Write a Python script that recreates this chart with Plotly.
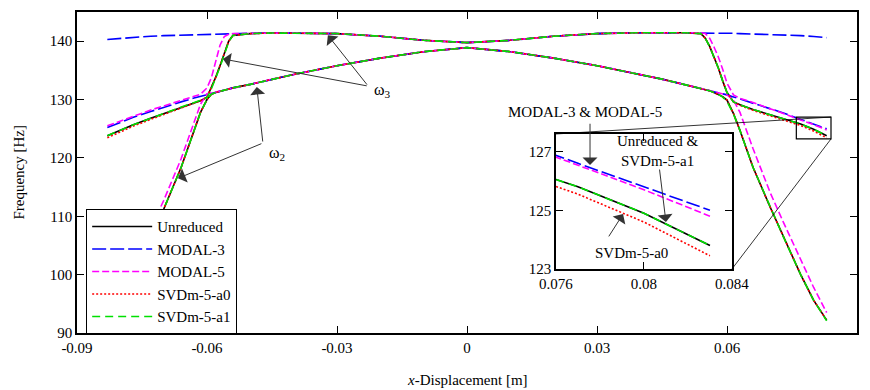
import plotly.graph_objects as go

# ---------------- data ----------------
X = [-0.083, -0.080, -0.077, -0.073, -0.070, -0.066, -0.063, -0.0615, -0.060, -0.059, -0.058,
     -0.057, -0.056, -0.055, -0.054, -0.050, -0.045, -0.040, -0.030, -0.020, -0.010, 0.0,
     0.010, 0.020, 0.030, 0.040, 0.045, 0.050, 0.054, 0.055, 0.056, 0.057, 0.058, 0.059,
     0.060, 0.0615, 0.063, 0.066, 0.070, 0.073, 0.077, 0.080, 0.083]

UNRED_W2 = [92.0, 95.6, 100.0, 106.3, 111.2, 118.3, 124.9, 127.8, 130.0, 130.9, 131.2,
            131.4, 131.6, 131.8, 132.0, 132.6, 133.5, 134.3, 135.8, 137.1, 138.2, 138.9,
            138.2, 137.1, 135.8, 134.3, 133.5, 132.6, 131.9, 131.7, 131.5, 131.2, 130.9, 130.5,
            129.9, 127.6, 124.7, 118.4, 111.5, 106.5, 100.0, 95.6, 92.2]
UNRED_W3 = [123.8, 124.8, 125.7, 126.8, 127.6, 128.7, 129.4, 129.8, 130.4, 132.0, 133.8,
            135.8, 137.9, 140.0, 141.0, 141.3, 141.4, 141.4, 141.3, 140.85, 140.15, 139.75,
            140.15, 140.85, 141.3, 141.45, 141.45, 141.45, 141.3, 140.5, 139.1, 137.4, 135.4, 133.2,
            131.2, 129.6, 129.1, 128.3, 127.4, 126.8, 125.8, 124.9, 123.8]

M3_LO = [125.2, 126.1, 126.95, 127.95, 128.7, 129.6, 130.25, 130.55, 130.85, 131.05, 131.25,
         131.45, 131.6, 131.8, 132.0, 132.6, 133.5, 134.3, 135.8, 137.1, 138.2, 138.9,
         138.2, 137.1, 135.8, 134.3, 133.5, 132.6, 131.9, 131.7, 131.55, 131.35, 131.15, 131.0,
         130.8, 130.45, 130.1, 129.4, 128.5, 127.7, 126.6, 125.8, 125.0]
M3_HI = [140.3, 140.5, 140.7, 140.85, 140.95, 141.05, 141.1, 141.15, 141.2, 141.2, 141.25,
         141.25, 141.25, 141.3, 141.3, 141.35, 141.4, 141.4, 141.3, 140.85, 140.15, 139.75,
         140.15, 140.85, 141.3, 141.45, 141.45, 141.45, 141.45, 141.45, 141.45, 141.45, 141.4, 141.4,
         141.4, 141.35, 141.3, 141.25, 141.15, 141.05, 140.95, 140.8, 140.6]

M5_LO = [93.3, 96.9, 101.4, 107.8, 112.7, 119.8, 126.3, 129.2, 131.0, 131.2, 131.3,
         131.45, 131.6, 131.8, 132.0, 132.6, 133.5, 134.3, 135.8, 137.1, 138.2, 138.9,
         138.2, 137.1, 135.8, 134.3, 133.5, 132.6, 131.9, 131.7, 131.55, 131.35, 131.15, 131.0,
         130.8, 129.9, 127.8, 121.6, 114.0, 109.0, 102.5, 97.8, 93.5]
M5_HI = [125.5, 126.35, 127.2, 128.2, 128.9, 129.85, 130.5, 130.9, 132.0, 133.7, 136.5,
         139.3, 140.8, 141.2, 141.3, 141.35, 141.4, 141.4, 141.3, 140.85, 140.15, 139.75,
         140.15, 140.85, 141.3, 141.45, 141.45, 141.45, 141.45, 141.3, 140.5, 139.0, 137.3, 135.2,
         132.8, 130.8, 130.2, 129.5, 128.45, 127.65, 126.55, 125.7, 124.8]

A0_W2 = UNRED_W2
A0_W3 = [123.45, 124.5, 125.45, 126.6, 127.45, 128.6, 129.35, 129.8, 130.4, 132.0, 133.8,
         135.8, 137.9, 140.0, 141.0, 141.3, 141.4, 141.4, 141.3, 140.85, 140.15, 139.75,
         140.15, 140.85, 141.3, 141.45, 141.45, 141.45, 141.3, 140.5, 139.1, 137.4, 135.4, 133.2,
         131.2, 129.6, 129.0, 128.15, 127.2, 126.6, 125.55, 124.6, 123.45]

A1_W2 = [92.0, 95.6, 100.0, 106.3, 111.2, 118.3, 124.9, 127.8, 130.0, 130.9, 131.2,
         131.4, 131.6, 131.8, 132.0, 132.6, 133.5, 134.3, 135.8, 137.1, 138.2, 138.9,
         138.2, 137.1, 135.8, 134.3, 133.5, 132.6, 131.9, 131.7, 131.5, 131.2, 130.9, 130.4,
         129.7, 127.5, 124.7, 118.4, 111.5, 106.5, 100.0, 95.6, 92.1]
A1_W3 = [123.8, 124.8, 125.7, 126.8, 127.6, 128.7, 129.4, 129.8, 130.3, 131.8, 133.6,
         135.6, 137.7, 139.9, 141.0, 141.3, 141.4, 141.4, 141.3, 140.85, 140.15, 139.75,
         140.15, 140.85, 141.3, 141.45, 141.45, 141.45, 141.3, 140.5, 139.1, 137.4, 135.4, 133.2,
         131.2, 129.6, 129.1, 128.3, 127.4, 126.8, 125.8, 124.9, 123.8]

SERIES = ["Unreduced", "MODAL-3", "MODAL-5", "SVDm-5-a0", "SVDm-5-a1"]
X_TICKS = [-0.09, -0.06, -0.03, 0, 0.03, 0.06, 0.09]
X_TICKTEXT = ["-0.09", "-0.06", "-0.03", "0", "0.03", "0.06", "0.09"]
Y_TICKS = [90, 100, 110, 120, 130, 140]
INSET_X_TICKS = [0.076, 0.08, 0.084]
INSET_X_TICKTEXT = ["0.076", "0.08", "0.084"]
INSET_Y_TICKS = [123, 125, 127]
ZOOM_BOX = [0.076, 0.084, 123.25, 127.0]

# ---------------- styles ----------------
FONT = "Liberation Serif"
styles = {
    "Unreduced": dict(color="#000000", dash="solid", width=1.6),
    "MODAL-3": dict(color="#0000FF", dash="14px,4px", width=1.6),
    "MODAL-5": dict(color="#FF00FF", dash="7px,3px", width=1.6),
    "SVDm-5-a0": dict(color="#FF0000", dash="2px,2px", width=1.6),
    "SVDm-5-a1": dict(color="#00E000", dash="8px,5px", width=1.6),
}
branches = {
    "Unreduced": (UNRED_W2, UNRED_W3),
    "MODAL-3": (M3_LO, M3_HI),
    "MODAL-5": (M5_LO, M5_HI),
    "SVDm-5-a0": (A0_W2, A0_W3),
    "SVDm-5-a1": (A1_W2, A1_W3),
}

fig = go.Figure()
for name in SERIES:
    lo, hi = branches[name]
    xx = list(X) + [None] + list(X)
    yy = list(lo) + [None] + list(hi)
    fig.add_trace(go.Scatter(x=xx, y=yy, mode="lines", name=name, line=styles[name],
                             legendgroup=name, showlegend=True, xaxis="x", yaxis="y"))
for name in SERIES:
    lo, hi = branches[name]
    xx = list(X) + [None] + list(X)
    yy = list(lo) + [None] + list(hi)
    fig.add_trace(go.Scatter(x=xx, y=yy, mode="lines", name=name, line=styles[name],
                             legendgroup=name, showlegend=False, xaxis="x2", yaxis="y2"))

axis_common = dict(showline=True, linecolor="black", linewidth=1.5, mirror="ticks",
                   ticks="inside", ticklen=7, tickwidth=1.2, tickcolor="black",
                   showgrid=False, zeroline=False, automargin=False,
                   tickfont=dict(family=FONT, size=15, color="black"))

XR = [-0.09, 0.09]
YR = [90, 145]
INSET_XD = [0.614, 0.8397]
INSET_YD = [0.1994, 0.620]

# the page adds an 8px body margin, so the figure is 8px smaller and its margins shifted
fig.update_layout(
    width=862, height=382,
    margin=dict(l=69, r=13, t=4, b=57, autoexpand=False),
    paper_bgcolor="white", plot_bgcolor="white",
    font=dict(family=FONT, size=15, color="black"),
    xaxis=dict(domain=[0, 1], range=XR, tickvals=X_TICKS, ticktext=X_TICKTEXT, **axis_common),
    yaxis=dict(domain=[0, 1], range=YR, tickvals=Y_TICKS, **axis_common),
    xaxis2=dict(domain=INSET_XD, anchor="y2", range=[0.076, 0.084], tickvals=INSET_X_TICKS,
                ticktext=INSET_X_TICKTEXT, **axis_common),
    yaxis2=dict(domain=INSET_YD, anchor="x2", range=[123, 127.6], tickvals=INSET_Y_TICKS,
                **axis_common),
    legend=dict(x=0.0115, y=0.386, xanchor="left", yanchor="top", bgcolor="white",
                bordercolor="black", borderwidth=1.2, font=dict(family=FONT, size=15),
                tracegroupgap=0, itemwidth=60),
    showlegend=True,
)

# zoom box and connector lines
def px(x):
    return (x - XR[0]) / (XR[1] - XR[0])

def py(y):
    return (y - YR[0]) / (YR[1] - YR[0])

fig.add_shape(type="rect", xref="x", yref="y", x0=ZOOM_BOX[0], x1=ZOOM_BOX[1],
              y0=ZOOM_BOX[2], y1=ZOOM_BOX[3], line=dict(color="black", width=1.2))
fig.add_shape(type="line", xref="paper", yref="paper", x0=INSET_XD[0], y0=INSET_YD[1],
              x1=px(ZOOM_BOX[1]), y1=py(ZOOM_BOX[3]), line=dict(color="black", width=0.8))
fig.add_shape(type="line", xref="paper", yref="paper", x0=INSET_XD[1], y0=INSET_YD[0],
              x1=px(ZOOM_BOX[1]), y1=py(ZOOM_BOX[2]), line=dict(color="black", width=0.8))

ann = []
arrow = dict(showarrow=True, arrowhead=1, arrowsize=2.5, arrowwidth=1.0, arrowcolor="#333333", text="")
center = dict(xanchor="center", yanchor="middle", showarrow=False)
# omega 3
ann.append(dict(x=-0.0194, y=131.6, xref="x", yref="y", text="ω<sub>3</sub>",
                font=dict(family=FONT, size=16), **center))
ann.append(dict(x=-0.0563, y=136.95, ax=-0.0228, ay=132.3, xref="x", yref="y", axref="x", ayref="y", **arrow))
ann.append(dict(x=-0.0321, y=141.0, ax=-0.0228, ay=132.3, xref="x", yref="y", axref="x", ayref="y", **arrow))
# omega 2
ann.append(dict(x=-0.0439, y=120.8, xref="x", yref="y", text="ω<sub>2</sub>",
                font=dict(family=FONT, size=16), **center))
ann.append(dict(x=-0.0485, y=132.15, ax=-0.0471, ay=122.55, xref="x", yref="y", axref="x", ayref="y", **arrow))
ann.append(dict(x=-0.0667, y=116.5, ax=-0.0471, ay=122.55, xref="x", yref="y", axref="x", ayref="y", **arrow))
# inset labels
ann.append(dict(x=0.651, y=0.688, xref="paper", yref="paper", text="MODAL-3 & MODAL-5",
                font=dict(family=FONT, size=15), **center))
ann.append(dict(x=0.07755, y=126.54, ax=0.07755, ay=128.0, xref="x2", yref="y2", axref="x2", ayref="y2", **arrow))
ann.append(dict(x=0.745, y=0.567, xref="paper", yref="paper", text="Unreduced &<br>SVDm-5-a1",
                font=dict(family=FONT, size=15), **center))
ann.append(dict(x=0.0810, y=124.6, ax=0.0807, ay=126.44, xref="x2", yref="y2", axref="x2", ayref="y2", **arrow))
ann.append(dict(x=0.7115, y=0.249, xref="paper", yref="paper", text="SVDm-5-a0",
                font=dict(family=FONT, size=15), **center))
ann.append(dict(x=0.07905, y=124.87, ax=0.07836, ay=124.06, xref="x2", yref="y2", axref="x2", ayref="y2", **arrow))
# axis titles
ann.append(dict(x=0.5, y=-0.146, xref="paper", yref="paper", text="<i>x</i>-Displacement [m]",
                font=dict(family=FONT, size=15), **center))
ann.append(dict(x=-0.0756, y=0.5, xref="paper", yref="paper", text="Frequency [Hz]", textangle=-90,
                font=dict(family=FONT, size=15), **center))
fig.update_layout(annotations=ann)

fig.write_html("out.html")
